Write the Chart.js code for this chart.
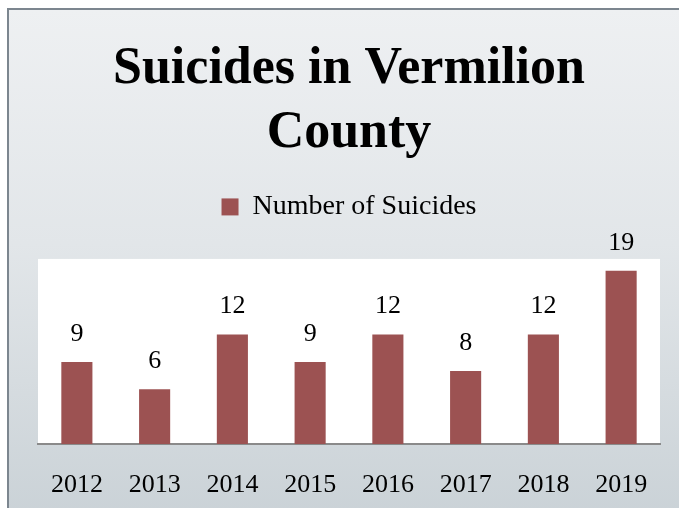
<!DOCTYPE html>
<html>
<head>
<meta charset="utf-8">
<script src="https://cdn.jsdelivr.net/npm/chart.js@4/dist/chart.umd.min.js"></script>
<style>
    html, body { margin: 0; padding: 0; background: #fff; }
    .frame {
        position: absolute; left: 7px; top: 8px; width: 700px; height: 520px;
        border: 2px solid #7c868f;
        background: linear-gradient(180deg, #eef0f2 0%, #e2e6e9 45%, #c9d1d6 100%);
    }
    .wrap { position: absolute; left: 0; top: 0; width: 679px; height: 508px; }
</style>
</head>
<body>
<div class="frame"></div>
<div class="wrap"><canvas id="chart"></canvas></div>
<script>
    // --- data ---
    const years = ['2012', '2013', '2014', '2015', '2016', '2017', '2018', '2019'];
    const suicides = [9, 6, 12, 9, 12, 8, 12, 19];
    const seriesName = 'Number of Suicides';

    const barColor = '#9c5252';
    const serif = '"Liberation Serif", "DejaVu Serif", serif';

    // white plot background
    const plotBg = {
        id: 'plotBg',
        beforeDraw(chart) {
            const { ctx, chartArea: a } = chart;
            ctx.save();
            ctx.fillStyle = '#ffffff';
            ctx.fillRect(a.left, a.top, a.right - a.left, a.bottom - a.top);
            ctx.restore();
        }
    };

    // extra gap under the legend
    const legendGap = {
        id: 'legendGap',
        beforeUpdate(chart) {
            const lg = chart.legend;
            if (lg && !lg._gapPatched) {
                const fit = lg.fit.bind(lg);
                lg.fit = function () { fit(); this.height += 28; };
                lg._gapPatched = true;
            }
        }
    };

    // value labels above bars
    const valueLabels = {
        id: 'valueLabels',
        afterDatasetsDraw(chart) {
            const { ctx } = chart;
            ctx.save();
            ctx.font = '26px ' + serif;
            ctx.fillStyle = '#000';
            ctx.textAlign = 'center';
            ctx.textBaseline = 'middle';
            chart.getDatasetMeta(0).data.forEach((bar, i) => {
                ctx.fillText(String(suicides[i]), bar.x, bar.y - 28);
            });
            ctx.restore();
        }
    };

    new Chart(document.getElementById('chart'), {
        type: 'bar',
        data: {
            labels: years,
            datasets: [{
                label: seriesName,
                data: suicides,
                backgroundColor: barColor,
                borderWidth: 0,
                categoryPercentage: 0.8,
                barPercentage: 0.5
            }]
        },
        options: {
            responsive: true,
            maintainAspectRatio: false,
            animation: false,
            layout: { padding: { left: 38, right: 19, top: 12, bottom: 0 } },
            plugins: {
                title: {
                    display: true,
                    text: ['Suicides in Vermilion', 'County'],
                    color: '#000',
                    font: { family: serif, size: 52, weight: 'bold', lineHeight: 1.23 },
                    padding: { top: 26, bottom: 17 }
                },
                legend: {
                    display: true,
                    labels: {
                        color: '#000',
                        font: { family: serif, size: 28 },
                        boxWidth: 17,
                        boxHeight: 17,
                        padding: 10
                    }
                },
                tooltip: { enabled: false }
            },
            scales: {
                x: {
                    grid: { display: false },
                    border: { display: true, color: '#8a8a8a', width: 2 },
                    ticks: { color: '#000', font: { family: serif, size: 26 }, padding: 18 },
                    afterFit(scale) { scale.height = 64; }
                },
                y: {
                    display: false,
                    min: 0,
                    max: 20.3
                }
            }
        },
        plugins: [plotBg, legendGap, valueLabels]
    });
</script>
</body>
</html>
